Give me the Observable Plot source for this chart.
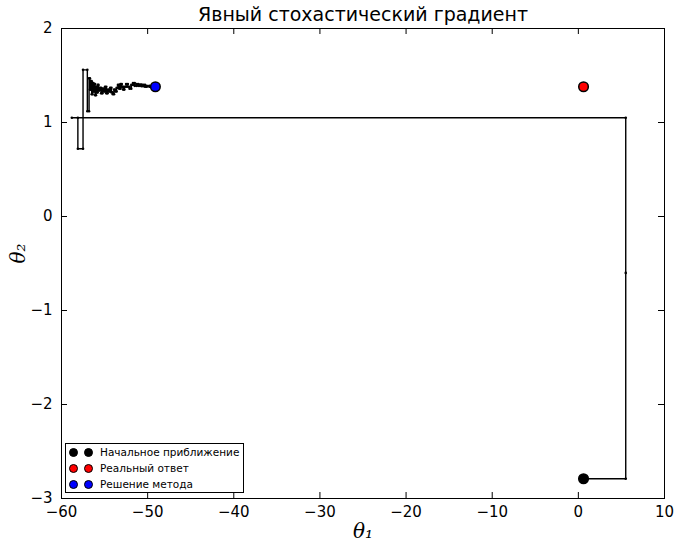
<!DOCTYPE html>
<html>
<head>
<meta charset="utf-8">
<script src="https://cdn.jsdelivr.net/npm/d3@7"></script>
<script src="https://cdn.jsdelivr.net/npm/@observablehq/plot@0.6"></script>
<style>
  body { margin: 0; background: #fff; }
  #wrap { position: relative; width: 679px; height: 546px; }
  .legend {
    position: absolute; left: 65px; top: 443px; width: 177px; height: 48px;
    border: 1px solid #000; background: #fff;
    font-family: "DejaVu Sans", sans-serif; font-size: 10.5px; color: #000;
  }
  .legend .row { position: absolute; left: 0; height: 16px; }
  .legend .dot { position: absolute; width: 9px; height: 9px; border-radius: 50%; box-sizing: border-box; border: 1px solid #000; top: 3px; }
  .legend .lbl { position: absolute; left: 34px; white-space: nowrap; top: 1px; }
</style>
</head>
<body>
<div id="wrap"></div>
<script>
// Ticks
const xTicks = [-60, -50, -40, -30, -20, -10, 0, 10];
const yTicks = [-3, -2, -1, 0, 1, 2];

// Optimisation trajectory (theta1, theta2), one coordinate updated per step
const theta1 = [
  0.6, 5.5, 5.5, 5.5, -58.8, -58.1, -58.1, -57.5, -57.5, -57.0, -57.0, -56.8,
  -56.8, -56.7, -56.7, -56.6, -56.6, -56.5, -56.5, -56.4, -56.4, -56.3, -56.3,
  -56.2, -56.2, -56.1, -56.1, -56.0, -56.0, -55.9, -55.9, -55.8, -55.8, -55.7,
  -55.7, -55.55, -55.55, -55.4, -55.4, -55.25, -55.25, -55.1, -55.1, -54.95,
  -54.95, -54.8, -54.8, -54.65, -54.65, -54.5, -54.5, -54.35, -54.35, -54.2,
  -54.2, -54.05, -54.05, -53.9, -53.9, -53.75, -53.75, -53.6, -53.6, -53.45,
  -53.45, -53.3, -53.3, -53.15, -53.15, -53.0, -53.0, -52.85, -52.85, -52.7,
  -52.7, -52.5, -52.5, -52.3, -52.3, -52.1, -52.1, -51.9, -51.9, -51.7, -51.7,
  -51.5, -51.5, -51.3, -51.3, -51.1, -51.1, -50.9, -50.9, -50.7, -50.7, -50.5,
  -50.5, -50.3, -50.3, -50.1, -50.1, -49.8, -49.8, -49.5, -49.5, -49.3, -49.3, -49.1
];
const theta2 = [
  -2.79, -2.79, -0.6, 1.05, 1.05, 1.05, 0.72, 0.72, 1.56, 1.56, 1.12, 1.12,
  1.47, 1.47, 1.35, 1.35, 1.44, 1.44, 1.30, 1.30, 1.42, 1.42, 1.33,
  1.33, 1.41, 1.41, 1.29, 1.29, 1.38, 1.38, 1.32, 1.32, 1.40, 1.40,
  1.34, 1.34, 1.37, 1.37, 1.31, 1.31, 1.36, 1.36, 1.33, 1.33,
  1.38, 1.38, 1.31, 1.31, 1.35, 1.35, 1.33, 1.33, 1.37,
  1.37, 1.32, 1.32, 1.30, 1.30, 1.35, 1.35, 1.33, 1.33, 1.37,
  1.37, 1.40, 1.40, 1.36, 1.36, 1.41, 1.41, 1.38, 1.38, 1.35,
  1.35, 1.38, 1.38, 1.41, 1.41, 1.38, 1.38, 1.36, 1.36, 1.40, 1.40,
  1.42, 1.42, 1.39, 1.39, 1.41, 1.41, 1.39, 1.39, 1.405, 1.405, 1.385,
  1.385, 1.40, 1.40, 1.38, 1.38, 1.39, 1.39, 1.38, 1.38, 1.385, 1.385, 1.38
];
const path = theta1.map((t, i) => ({t1: t, t2: theta2[i]}));

// Key points
const startPoint = [{t1: 0.6, t2: -2.79}];
const truePoint = [{t1: 0.6, t2: 1.38}];
const methodPoint = [{t1: -49.1, t2: 1.38}];

const legendItems = [
  {label: "Начальное приближение", color: "#000000"},
  {label: "Реальный ответ", color: "#ff0000"},
  {label: "Решение метода", color: "#0000ff"}
];

const W = 679, H = 546;
const mL = 61, mR = 15, mT = 28, mB = 48;
const innerW = W - mL - mR, innerH = H - mT - mB;
const fmt = d => String(d).replace("-", "\u2212");

const chart = Plot.plot({
  width: W,
  height: H,
  marginLeft: mL,
  marginRight: mR,
  marginTop: mT,
  marginBottom: mB,
  style: {fontFamily: "DejaVu Sans, sans-serif", fontSize: "15px", color: "#000", background: "#fff"},
  x: {domain: [-60, 10]},
  y: {domain: [-3, 2]},
  marks: [
    Plot.frame({stroke: "#000", strokeWidth: 1}),
    // inward ticks on all four sides
    Plot.tickX(xTicks, {x: d => d, insetTop: innerH - 6, stroke: "#000"}),
    Plot.tickX(xTicks, {x: d => d, insetBottom: innerH - 6, stroke: "#000"}),
    Plot.tickY(yTicks, {y: d => d, insetRight: innerW - 6, stroke: "#000"}),
    Plot.tickY(yTicks, {y: d => d, insetLeft: innerW - 6, stroke: "#000"}),
    Plot.axisX(xTicks, {tickSize: 0, tickPadding: 8, label: null, fontSize: 15, tickFormat: fmt}),
    Plot.axisY(yTicks, {tickSize: 0, tickPadding: 9, label: null, fontSize: 15, tickFormat: fmt}),
    // trajectory
    Plot.line(path, {x: "t1", y: "t2", stroke: "#000", strokeWidth: 1.4}),
    Plot.dot(path, {x: "t1", y: "t2", r: 1.3, fill: "#000"}),
    // key points
    Plot.dot(startPoint, {x: "t1", y: "t2", r: 4.8, fill: "#000", stroke: "#000"}),
    Plot.dot(truePoint, {x: "t1", y: "t2", r: 4.8, fill: "#ff0000", stroke: "#000"}),
    Plot.dot(methodPoint, {x: "t1", y: "t2", r: 4.8, fill: "#0000ff", stroke: "#000"}),
    // title and axis labels
    Plot.text(["Явный стохастический градиент"], {frameAnchor: "top", text: d => d, dy: -8, lineAnchor: "bottom", fontSize: 19, fontFamily: "DejaVu Sans"}),
    Plot.text(["θ₁"], {frameAnchor: "bottom", text: d => d, dy: 39, fontSize: 20, fontFamily: "DejaVu Serif", fontStyle: "italic"}),
    Plot.text(["θ₂"], {frameAnchor: "left", text: d => d, dx: -43, rotate: -90, fontSize: 20, fontFamily: "DejaVu Serif", fontStyle: "italic"})
  ]
});

const wrap = document.getElementById("wrap");
wrap.appendChild(chart);

// legend box in the lower-left corner of the axes
const legend = document.createElement("div");
legend.className = "legend";
legendItems.forEach((item, i) => {
  const row = document.createElement("div");
  row.className = "row";
  row.style.top = (1 + i * 16) + "px";
  row.style.width = "100%";
  [3, 18].forEach(left => {
    const d = document.createElement("span");
    d.className = "dot";
    d.style.left = left + "px";
    d.style.background = item.color;
    row.appendChild(d);
  });
  const t = document.createElement("span");
  t.className = "lbl";
  t.textContent = item.label;
  row.appendChild(t);
  legend.appendChild(row);
});
wrap.appendChild(legend);
</script>
</body>
</html>
